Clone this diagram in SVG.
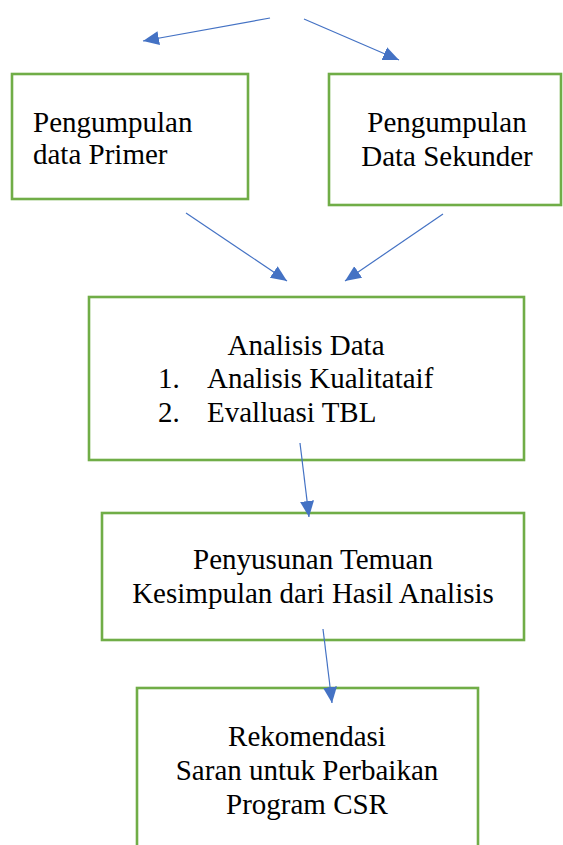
<svg xmlns="http://www.w3.org/2000/svg" width="563" height="845" viewBox="0 0 563 845">
<style>
.box{fill:#fff;stroke:#70AD47;stroke-width:2.6}
.t{font-family:"Liberation Serif","Times New Roman",serif;font-size:29px;fill:#000}
.c{text-anchor:middle}
.ln{stroke:#4472C4;stroke-width:1.2;fill:none;marker-end:url(#ah)}
</style>
<defs>
<marker id="ah" markerUnits="userSpaceOnUse" markerWidth="18" markerHeight="16" refX="16" refY="7" orient="auto">
<path d="M0,0 L16,7 L0,14 Z" fill="#4472C4"/>
</marker>
</defs>
<rect width="563" height="845" fill="#fff"/>
<g id="primer">
<rect class="box" x="12" y="74" width="236" height="125"/>
<text class="t" x="33" y="132">Pengumpulan</text>
<text class="t" x="33" y="164">data Primer</text>
</g>
<g id="sekunder">
<rect class="box" x="329" y="74" width="232" height="131"/>
<text class="t c" x="447" y="132">Pengumpulan</text>
<text class="t c" x="447" y="166">Data Sekunder</text>
</g>
<g id="analisis">
<rect class="box" x="89" y="297" width="435" height="163"/>
<text class="t c" x="306" y="355">Analisis Data</text>
<text class="t" x="158" y="388">1.</text>
<text class="t" x="207" y="388">Analisis Kualitataif</text>
<text class="t" x="158" y="422">2.</text>
<text class="t" x="207" y="422">Evalluasi TBL</text>
</g>
<g id="penyusunan">
<rect class="box" x="102" y="513" width="422" height="127"/>
<text class="t c" x="313" y="569">Penyusunan Temuan</text>
<text class="t c" x="313" y="603">Kesimpulan dari Hasil Analisis</text>
</g>
<g id="rekomendasi">
<rect class="box" x="137" y="688" width="341" height="180"/>
<text class="t c" x="307" y="746">Rekomendasi</text>
<text class="t c" x="307" y="780">Saran untuk Perbaikan</text>
<text class="t c" x="307" y="814">Program CSR</text>
</g>
<g id="connectors">
<line class="ln" x1="270" y1="18" x2="143" y2="41"/>
<line class="ln" x1="304" y1="19" x2="399" y2="60"/>
<line class="ln" x1="186" y1="213" x2="287" y2="281"/>
<line class="ln" x1="443" y1="214" x2="345" y2="281"/>
<line class="ln" x1="300" y1="443" x2="309" y2="517"/>
<line class="ln" x1="323" y1="629" x2="332" y2="703"/>
</g>
</svg>
